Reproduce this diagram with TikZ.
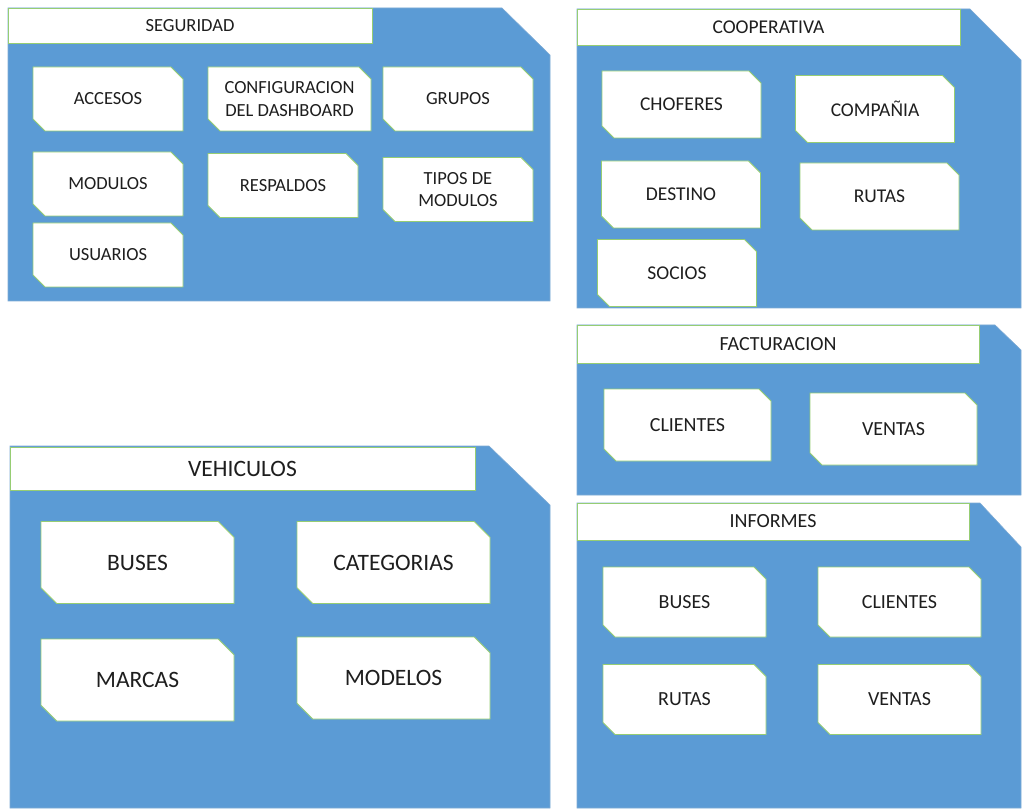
\documentclass[tikz,border=0pt]{standalone}
\usepackage{fontspec}
\setmainfont{Carlito}
\usetikzlibrary{shapes.misc}
\definecolor{azul}{RGB}{91,155,213}
\definecolor{borde}{RGB}{125,170,212}
\definecolor{verde}{RGB}{150,205,115}
\definecolor{gris}{RGB}{30,30,30}

\begin{document}
\begin{tikzpicture}[x=1pt, y=-1pt,
    paquete/.style={fill=azul, draw=borde, line width=0.6pt},
    titulo/.style={draw=verde, fill=white, line width=0.8pt, text=gris, inner sep=0pt},
    carta/.style={chamfered rectangle, chamfered rectangle corners={north east,south west},
      chamfered rectangle sep=6pt, draw=verde, fill=white, line width=0.8pt,
      text=gris, align=center, inner sep=0pt}]
  \useasboundingbox (0,0) rectangle (1023,810);
  %seguridad
    \draw[paquete] (8,8) -- (502,8) -- (550,55) -- (550,301) -- (8,301) -- cycle;
    \node[titulo, minimum width=364, minimum height=35, font=\fontsize{18.5}{22}\selectfont] (seg) at (190,25.5) {SEGURIDAD};
    \begin{scope}[every node/.style={carta, minimum width=150, minimum height=64, font=\fontsize{18.5}{22.5}\selectfont}]
      \node (accesos) at (108,99) {ACCESOS};
      \node[minimum width=163] (config) at (289.5,99) {CONFIGURACION\\DEL DASHBOARD};
      \node (grupos) at (458,99) {GRUPOS};
      \node (modulos) at (108,184) {MODULOS};
      \node (respaldos) at (283,185.5) {RESPALDOS};
      \node (tipos) at (458,189.5) {TIPOS DE\\MODULOS};
      \node (usuarios) at (108,255) {USUARIOS};
    \end{scope}
  %cooperativa
    \draw[paquete] (577,9) -- (970,9) -- (1021,60) -- (1021,308) -- (577,308) -- cycle;
    \node[titulo, minimum width=383, minimum height=36, font=\fontsize{19.5}{23}\selectfont] (coop) at (768.5,27) {COOPERATIVA};
    \foreach \n/\x/\y/\t in {choferes/681.5/104.5/CHOFERES, compania/875/109/COMPAÑIA,
        destino/681/194.5/DESTINO, rutasc/879.5/196.5/RUTAS, socios/677/273/SOCIOS}{
      \node[carta, minimum width=159, minimum height=67, font=\fontsize{19.5}{23}\selectfont] (\n) at (\x,\y) {\t};
    }
  %facturacion
    \draw[paquete] (577,325) -- (995,325) -- (1021,350) -- (1021,495) -- (577,495) -- cycle;
    \node[titulo, minimum width=402, minimum height=38, font=\fontsize{20}{24}\selectfont] (fact) at (778,344) {FACTURACION};
    \foreach \n/\x/\y/\t in {clientesf/687.5/425/CLIENTES, ventasf/893.5/429/VENTAS}{
      \node[carta, minimum width=167, minimum height=72, font=\fontsize{20}{24}\selectfont] (\n) at (\x,\y) {\t};
    }
  %informes
    \draw[paquete] (577,503) -- (980,503) -- (1021,547) -- (1021,808) -- (577,808) -- cycle;
    \node[titulo, minimum width=392, minimum height=37, font=\fontsize{20}{24}\selectfont] (inf) at (773,521.5) {INFORMES};
    \foreach \n/\x/\y/\t in {busesi/684.5/602/BUSES, clientesi/899.5/602/CLIENTES,
        rutasi/684.5/699.5/RUTAS, ventasi/899.5/699.5/VENTAS}{
      \node[carta, minimum width=163, minimum height=70, font=\fontsize{20}{24}\selectfont] (\n) at (\x,\y) {\t};
    }
  %vehiculos
    \draw[paquete] (10,446) -- (489,446) -- (550,505) -- (550,808) -- (10,808) -- cycle;
    \node[titulo, minimum width=465, minimum height=43, font=\fontsize{23.5}{28}\selectfont] (veh) at (242.5,468.5) {VEHICULOS};
    \foreach \n/\x/\y/\t in {busesv/137.5/562.5/BUSES, categorias/393.5/562.5/CATEGORIAS,
        marcas/137.5/680/MARCAS, modelos/393.5/678/MODELOS}{
      \node[carta, chamfered rectangle sep=8pt, minimum width=193, minimum height=82, font=\fontsize{23.5}{28}\selectfont] (\n) at (\x,\y) {\t};
    }
\end{tikzpicture}
\end{document}
